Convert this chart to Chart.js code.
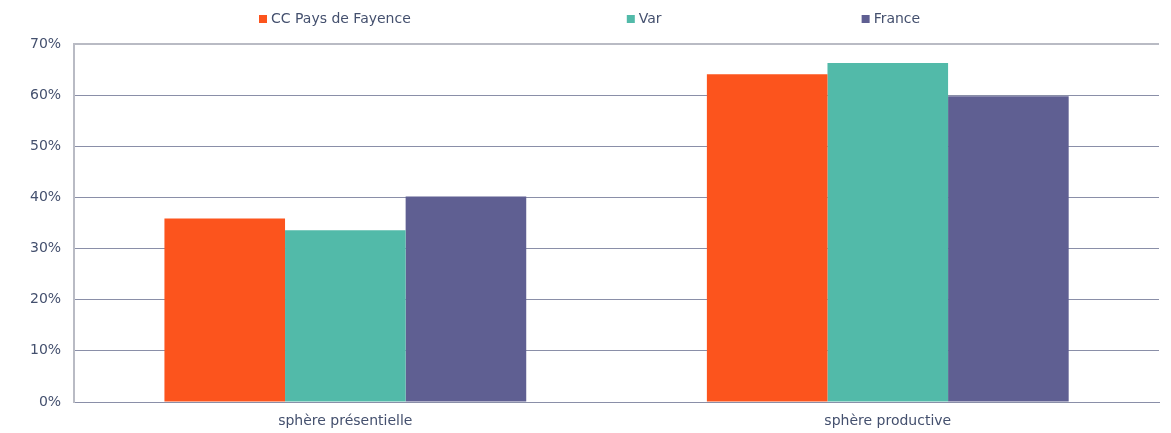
<!DOCTYPE html>
<html>
<head>
<meta charset="utf-8">
<script src="https://cdn.jsdelivr.net/npm/chart.js@4/dist/chart.umd.min.js"></script>
<style>
  body { margin: 0; background: #fff; }
  #wrap { width: 1171px; height: 433px; }
</style>
</head>
<body>
<div id="wrap"><canvas id="myChart"></canvas></div>
<script>
var categories = ["sphère présentielle", "sphère productive"];
var seriesNames = ["CC Pays de Fayence", "Var", "France"];
var fayence = [35.9, 64.1];
var varDep = [33.6, 66.3];
var france = [40.2, 59.8];
var yTicks = [0, 10, 20, 30, 40, 50, 60, 70];

var colors = ["#fc541d", "#52baa9", "#5f5f92"];
var textColor = "#44506e";
var fontFamily = "'DejaVu Sans', Verdana, sans-serif";

// legend drawn by hand: chart.js legend padding cannot spread items this wide
var spreadLegend = {
  id: 'spreadLegend',
  afterDraw: function(chart) {
    var ctx = chart.ctx;
    var gaps = [216, 200], box = 8;
    ctx.save();
    ctx.font = "14px " + fontFamily;
    ctx.textBaseline = 'middle';
    var x = 259;
    var y = 19;
    chart.data.datasets.forEach(function(ds, i) {
      var w = box + 4 + ctx.measureText(ds.label).width;
      ctx.fillStyle = ds.backgroundColor;
      ctx.fillRect(x, y - 4, box, 8);
      ctx.fillStyle = textColor;
      ctx.fillText(ds.label, x + box + 4, y);
      x += w + (gaps[i] || 0);
    });
    ctx.restore();
  }
};

var ctx = document.getElementById("myChart").getContext('2d');
var myChart = new Chart(ctx, {
  type: 'bar',
  data: {
    labels: categories,
    datasets: [
      { label: seriesNames[0], data: fayence, backgroundColor: colors[0] },
      { label: seriesNames[1], data: varDep, backgroundColor: colors[1] },
      { label: seriesNames[2], data: france, backgroundColor: colors[2] }
    ]
  },
  options: {
    responsive: true,
    maintainAspectRatio: false,
    animation: false,
    datasets: {
      bar: { categoryPercentage: 0.667, barPercentage: 1.0 }
    },
    layout: { padding: { top: 44, left: 17, right: 12, bottom: 0 } },
    plugins: {
      legend: { display: false },
      tooltip: { enabled: false }
    },
    scales: {
      x: {
        grid: { display: false, drawTicks: false },
        border: { color: '#8a8fa8', width: 1 },
        ticks: { color: textColor, font: { family: fontFamily, size: 14 }, padding: 11 },
        afterFit: function(scale) { scale.height = 31; }
      },
      y: {
        min: 0,
        max: 70,
        afterBuildTicks: function(axis) {
          axis.ticks = yTicks.map(function(v) { return { value: v }; });
        },
        grid: {
          drawTicks: false,
          color: function(c) { return c.tick && c.tick.value === 70 ? '#b9bbc4' : '#8a8fa8'; },
          lineWidth: function(c) { return c.tick && c.tick.value === 70 ? 2 : 1; }
        },
        border: { color: '#b9bbc4', width: 2 },
        ticks: {
          color: textColor,
          font: { family: fontFamily, size: 14 },
          padding: 13,
          callback: function(v) { return v + '%'; }
        }
      }
    }
  },
  plugins: [spreadLegend]
});
</script>
</body>
</html>
